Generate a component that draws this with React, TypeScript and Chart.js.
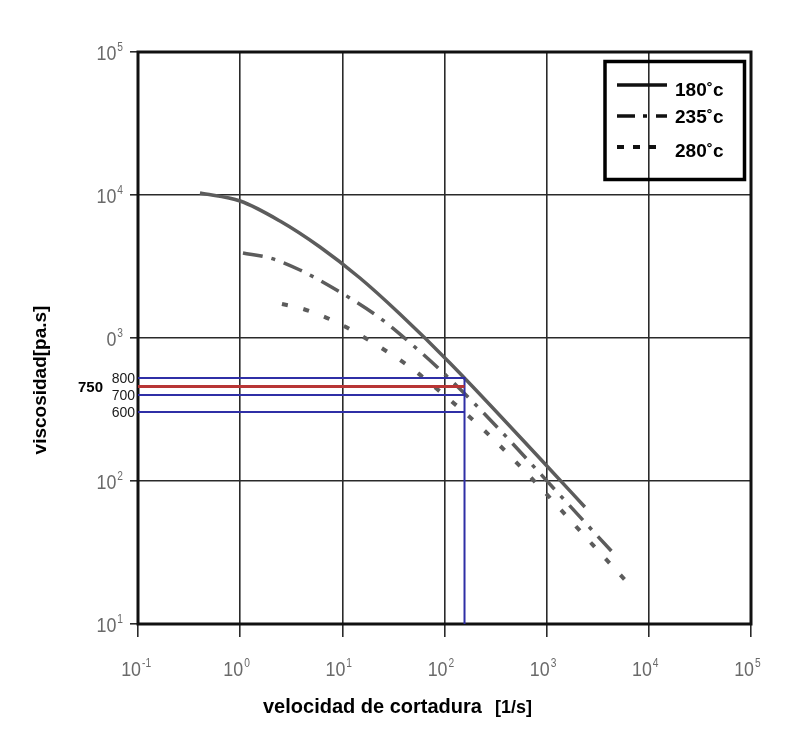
import React, { useEffect, useRef } from 'react';
import { Chart, registerables } from 'chart.js';

Chart.register(...registerables);

// ---- data ----
const shear180 = [0.404, 1.0, 2.452, 6.04, 14.87, 36.6, 113, 1027, 2364];
const visc180 = [10330, 9078, 6580, 4329, 2627, 1472, 669, 125.3, 65.8];

const shear235 = [1.065, 1.957, 3.847, 9.48, 23.33, 51.3, 118.2, 348.4, 1346, 4863];
const visc235 = [3930, 3625, 2989, 2097, 1380, 865, 500, 227.3, 79.8, 29.4];

const shear280 = [2.565, 3.847, 6.04, 9.48, 14.87, 23.33, 45.8, 72.0, 243, 858, 2831, 6518];
const visc280 = [1729, 1621, 1448, 1253, 1050, 865, 627, 484, 227, 90.8, 35.7, 18.7];

const seriesNames = ['180˚c', '235˚c', '280˚c'];

// reading lines drawn by hand on the chart
const readShear = 157;
const blueLevels = [800, 700, 600];
const redLevel = 750;
const redLabel = '750';

// tick labels
const xTickExps = ['-1', '0', '1', '2', '3', '4', '5'];
const yTickExps = ['5', '4', '3', '2', '1'];
const yTickBases = ['10', '10', '0', '10', '10'];

const xTitle = 'velocidad de cortadura';
const xUnit = '[1/s]';
const yTitle = 'viscosidad[pa.s]';

// hidden linear axis the hand-drawn reading lines were placed on
const Y2_MIN = -647;
const Y2_MAX = 2718;

const FONT = '"Liberation Sans", Arial, Helvetica, sans-serif';
const CURVE = '#5c5c5c';
const BLUE = '#2f2fa6';
const RED = '#b83535';

function pts(xs: number[], ys: number[]) {
  return xs.map((x, i) => ({ x, y: ys[i] }));
}

function drawPow(ctx: CanvasRenderingContext2D, base: string, exp: string, x: number, baseline: number, mode: 'right' | 'baseRight') {
  const sx = 0.85;
  ctx.font = `21px ${FONT}`;
  const bw = ctx.measureText(base).width * sx;
  ctx.font = `12px ${FONT}`;
  const ew = ctx.measureText(exp).width * sx;
  const bx = mode === 'right' ? x - bw - ew - 1 : x - bw;
  ctx.save();
  ctx.translate(bx, baseline);
  ctx.scale(sx, 1);
  ctx.font = `21px ${FONT}`;
  ctx.textAlign = 'left';
  ctx.textBaseline = 'alphabetic';
  ctx.fillText(base, 0, 0);
  ctx.restore();
  ctx.save();
  ctx.translate(bx + bw + 1, baseline - 9);
  ctx.scale(sx, 1);
  ctx.font = `12px ${FONT}`;
  ctx.textAlign = 'left';
  ctx.textBaseline = 'alphabetic';
  ctx.fillText(exp, 0, 0);
  ctx.restore();
}

const framePlugin = {
  id: 'frame',
  beforeDatasetsDraw(chart: any) {
    const { ctx, chartArea: a } = chart;
    ctx.save();
    ctx.strokeStyle = '#111';
    ctx.lineWidth = 3;
    ctx.strokeRect(a.left, a.top, a.right - a.left, a.bottom - a.top);
    ctx.restore();
  },
};

const textPlugin = {
  id: 'texts',
  afterDraw(chart: any) {
    const { ctx } = chart;
    const xs = chart.scales.x;
    const ys = chart.scales.y;
    const y2 = chart.scales.y2;
    ctx.save();
    ctx.fillStyle = '#6a6a6a';
    // x tick labels
    xTickExps.forEach((e) => {
      const px = xs.getPixelForValue(Math.pow(10, Number(e)));
      drawPow(ctx, '10', e, px + 3, 676, 'baseRight');
    });
    // y tick labels
    yTickExps.forEach((e, i) => {
      const py = ys.getPixelForValue(Math.pow(10, Number(e)));
      drawPow(ctx, yTickBases[i], e, 123, py + 8, 'right');
    });

    // reading-line labels
    ctx.fillStyle = '#1a1a1a';
    ctx.font = `14px ${FONT}`;
    ctx.textAlign = 'right';
    ctx.textBaseline = 'middle';
    blueLevels.forEach((v) => {
      ctx.fillText(String(v), 135, y2.getPixelForValue(v) + 1);
    });
    ctx.fillStyle = '#000';
    ctx.font = `bold 15px ${FONT}`;
    ctx.fillText(redLabel, 103, y2.getPixelForValue(redLevel) + 1);

    // axis titles
    ctx.fillStyle = '#000';
    ctx.textBaseline = 'alphabetic';
    ctx.textAlign = 'left';
    ctx.font = `bold 20px ${FONT}`;
    ctx.fillText(xTitle, 263, 713);
    ctx.font = `bold 18px ${FONT}`;
    ctx.fillText(xUnit, 495, 713);

    ctx.save();
    ctx.translate(46, 380);
    ctx.rotate(-Math.PI / 2);
    ctx.textAlign = 'center';
    ctx.font = `bold 19px ${FONT}`;
    ctx.fillText(yTitle, 0, 0);
    ctx.restore();

    // legend
    ctx.strokeStyle = '#000';
    ctx.lineWidth = 3.5;
    ctx.strokeRect(605, 61.5, 139.5, 118);
    const rows = [85, 116, 147];
    const dashes = [[], [18, 8, 4, 9], [7, 9]];
    const widths = [3.5, 3.5, 4];
    rows.forEach((ry, i) => {
      ctx.save();
      ctx.strokeStyle = '#111';
      ctx.lineWidth = widths[i];
      ctx.setLineDash(dashes[i]);
      ctx.beginPath();
      ctx.moveTo(617, ry);
      ctx.lineTo(i === 2 ? 658 : 667, ry);
      ctx.stroke();
      ctx.restore();
    });
    ctx.fillStyle = '#000';
    ctx.font = `bold 19px ${FONT}`;
    ctx.textAlign = 'left';
    const baselines = [96, 123, 157];
    seriesNames.forEach((n, i) => ctx.fillText(n, 675, baselines[i]));
    ctx.restore();
  },
};

export default function App() {
  const ref = useRef<HTMLCanvasElement | null>(null);

  useEffect(() => {
    if (!ref.current) return;
    const curve = {
      pointRadius: 0,
      borderColor: CURVE,
      cubicInterpolationMode: 'monotone' as const,
      fill: false,
      yAxisID: 'y',
      order: 2,
    };
    const mark = { pointRadius: 0, tension: 0, fill: false, yAxisID: 'y2' };
    const chart = new Chart(ref.current, {
      type: 'line',
      data: {
        datasets: [
          { ...curve, label: seriesNames[0], data: pts(shear180, visc180), borderWidth: 3.5 },
          { ...curve, label: seriesNames[1], data: pts(shear235, visc235), borderWidth: 3.5, borderDash: [20, 9, 4, 9] },
          { ...curve, label: seriesNames[2], data: pts(shear280, visc280), borderWidth: 4, borderDash: [6, 16] },
          {
            ...mark,
            label: String(blueLevels[0]),
            data: [
              { x: 0.1, y: blueLevels[0] },
              { x: readShear, y: blueLevels[0] },
              { x: readShear, y: Y2_MIN },
            ],
            borderColor: BLUE,
            borderWidth: 2,
            order: 1,
          },
          ...blueLevels.slice(1).map((v) => ({
            ...mark,
            label: String(v),
            data: [
              { x: 0.1, y: v },
              { x: readShear, y: v },
            ],
            borderColor: BLUE,
            borderWidth: 2,
            order: 1,
          })),
          {
            ...mark,
            label: redLabel,
            data: [
              { x: 0.1, y: redLevel },
              { x: readShear, y: redLevel },
            ],
            borderColor: RED,
            borderWidth: 3,
            order: 0,
          },
        ] as any,
      },
      options: {
        animation: false,
        responsive: false,
        devicePixelRatio: 1,
        events: [],
        layout: { padding: { top: 52, right: 58, left: 0, bottom: 0 } },
        plugins: { legend: { display: false }, tooltip: { enabled: false }, title: { display: false } },
        scales: {
          x: {
            type: 'logarithmic',
            position: 'bottom',
            min: 0.1,
            max: 100000,
            afterBuildTicks: (s: any) => {
              s.ticks = xTickExps.map((e) => ({ value: Math.pow(10, Number(e)) }));
            },
            afterFit: (s: any) => {
              s.height = 106;
            },
            ticks: { display: false },
            grid: { color: '#2a2a2a', lineWidth: 1.6, drawTicks: true, tickLength: 13 },
            border: { display: false },
          },
          y: {
            type: 'logarithmic',
            position: 'left',
            min: 10,
            max: 100000,
            afterBuildTicks: (s: any) => {
              s.ticks = yTickExps.map((e) => ({ value: Math.pow(10, Number(e)) }));
            },
            afterFit: (s: any) => {
              s.width = 138;
            },
            ticks: { display: false },
            grid: { color: '#2a2a2a', lineWidth: 1.6, drawTicks: true, tickLength: 8 },
            border: { display: false },
          },
          y2: {
            type: 'linear',
            display: false,
            min: Y2_MIN,
            max: Y2_MAX,
          },
        },
      } as any,
      plugins: [framePlugin, textPlugin],
    });
    return () => chart.destroy();
  }, []);

  return (
    <div style={{ position: 'fixed', left: 0, top: 0, width: 809, height: 730, background: '#fff' }}>
      <canvas ref={ref} width={809} height={730} />
    </div>
  );
}
